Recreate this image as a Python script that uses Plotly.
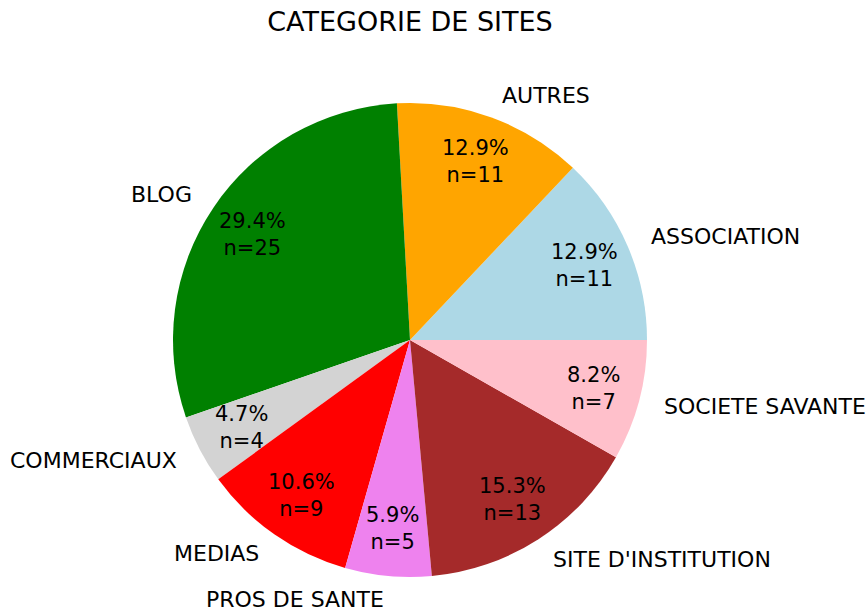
import math
import plotly.graph_objects as go

# slice data (matplotlib-style pie: starts at 3 o'clock, counterclockwise)
labels = ["ASSOCIATION", "AUTRES", "BLOG", "COMMERCIAUX", "MEDIAS",
          "PROS DE SANTE", "SITE D'INSTITUTION", "SOCIETE SAVANTE"]
counts = [11, 11, 25, 4, 9, 5, 13, 7]
colors = ["lightblue", "orange", "green", "lightgray", "red",
          "violet", "brown", "pink"]

W, H = 867, 612
cx, cy, R = 410, 340, 237   # pie centre / radius in pixels
FONT = "DejaVu Sans"

total = sum(counts)

fig = go.Figure()
fig.add_trace(go.Pie(
    labels=labels, values=counts, sort=False,
    # plotly puts the first ccw slice just clockwise of `rotation`
    direction="counterclockwise", rotation=90 - 360 * counts[0] / total,
    marker=dict(colors=colors, line=dict(width=0)),
    textinfo="none", hoverinfo="label+value+percent",
    domain=dict(x=[(cx - R) / W, (cx + R) / W],
                y=[(H - cy - R) / H, (H - cy + R) / H]),
    showlegend=False,
))

# labels outside (1.1 r) and percentages inside (0.8 r)
cum = 0
for lab, n in zip(labels, counts):
    mid = math.radians(360 * (cum + n / 2) / total)
    cum += n
    c, s = math.cos(mid), math.sin(mid)
    fig.add_annotation(
        x=(cx + 1.1 * R * c) / W, y=(H - cy + 1.1 * R * s) / H,
        xref="paper", yref="paper", text=lab, showarrow=False,
        xanchor="left" if c > 0 else "right", yanchor="middle",
        font=dict(family=FONT, size=22, color="black"))
    fig.add_annotation(
        x=(cx + 0.8 * R * c) / W, y=(H - cy + 0.8 * R * s) / H,
        xref="paper", yref="paper",
        text="%.1f%%<br>n=%d" % (100 * n / total, n), showarrow=False,
        xanchor="center", yanchor="middle",
        font=dict(family=FONT, size=21, color="black"))

fig.update_layout(
    width=W, height=H,
    margin=dict(l=0, r=0, t=0, b=0),
    title=dict(text="CATEGORIE DE SITES", x=cx / W, xanchor="center",
               y=1 - 22 / H, yanchor="middle", yref="container",
               font=dict(family=FONT, size=27, color="black")),
    paper_bgcolor="white", plot_bgcolor="white",
)

fig.write_html("out.html", config={"displayModeBar": False},
               post_script="document.body.style.margin='0';")
